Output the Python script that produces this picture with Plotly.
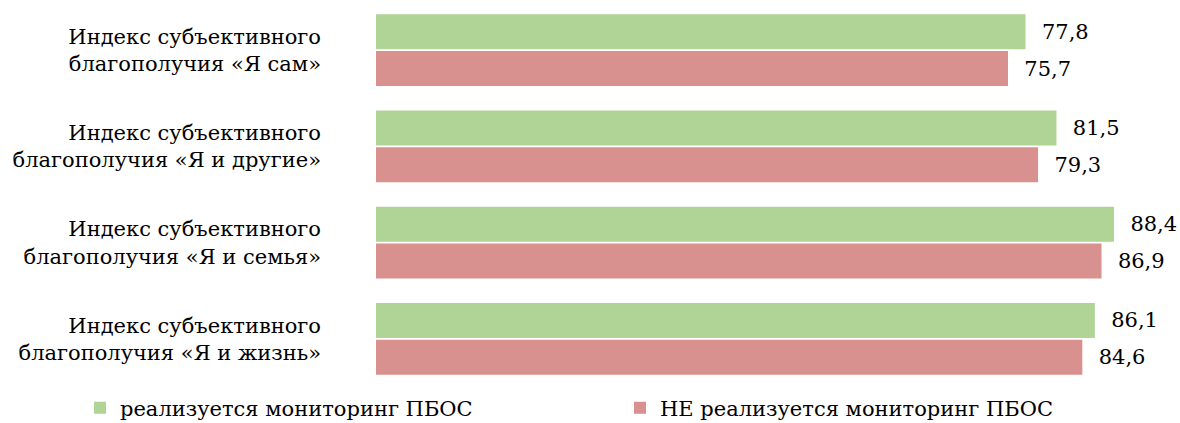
import plotly.graph_objects as go

categories = [
    "Индекс субъективного<br>благополучия «Я сам»",
    "Индекс субъективного<br>благополучия «Я и другие»",
    "Индекс субъективного<br>благополучия «Я и семья»",
    "Индекс субъективного<br>благополучия «Я и жизнь»",
]
series_names = ["реализуется мониторинг ПБОС", "НЕ реализуется мониторинг ПБОС"]
with_monitoring = [77.8, 81.5, 88.4, 86.1]
without_monitoring = [75.7, 79.3, 86.9, 84.6]

colors = ["#B0D396", "#D8918F"]
FONT = "DejaVu Serif"

def fmt(v):
    return f"{v:.1f}".replace(".", ",")

fig = go.Figure()
for name, vals, col in zip(series_names, [with_monitoring, without_monitoring], colors):
    fig.add_trace(go.Bar(
        y=categories, x=vals, orientation="h", name=name,
        marker=dict(color=col, line=dict(width=0)),
        text=[fmt(v) for v in vals],
        texttemplate="\u00a0\u00a0%{text}",
        textposition="outside", cliponaxis=False,
        textfont=dict(family=FONT, size=21, color="#000000"),
    ))

fig.update_layout(
    width=1180, height=423,
    margin=dict(l=376, r=0, t=2, b=36, autoexpand=False),
    barmode="group", bargap=0.233, bargroupgap=0.054,
    paper_bgcolor="white", plot_bgcolor="white",
    font=dict(family=FONT, size=21, color="#000000"),
    showlegend=True,
    legend=dict(orientation="h", xref="paper", x=(80 - 376) / 804, xanchor="left",
                yref="paper", y=-21 / 385, yanchor="middle",
                entrywidth=495, entrywidthmode="pixels",
                font=dict(family=FONT, size=21, color="#000000"),
                itemclick=False),
)
fig.update_xaxes(range=[0, 96.3], visible=False, showgrid=False, zeroline=False)
fig.update_yaxes(autorange="reversed", showgrid=False, zeroline=False,
                 showline=False, ticks="", ticklabelstandoff=54, automargin=False,
                 tickfont=dict(family=FONT, size=21, color="#000000"))

fig.write_html("out.html", config={"displayModeBar": False},
               post_script="document.body.style.margin='0';document.body.style.padding='0';")
